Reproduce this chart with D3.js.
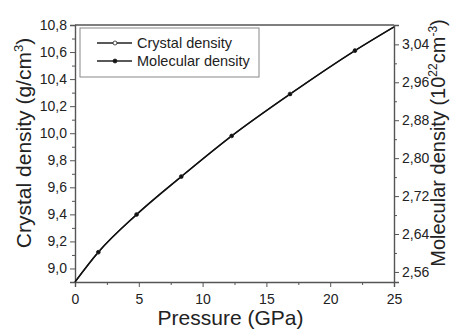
<!DOCTYPE html>
<html>
<head>
<meta charset="utf-8">
<script src="https://cdn.jsdelivr.net/npm/d3@7"></script>
<style>
  body { margin: 0; background: #fff; }
  svg { display: block; font-family: "Liberation Sans", Arial, sans-serif; }
</style>
</head>
<body>
<svg width="451" height="331"></svg>
<script>
// data
var pressure = [0, 1.83, 4.83, 8.33, 12.28, 16.85, 21.94, 25];
var crystalDensity = [8.90, 9.12, 9.40, 9.68, 9.98, 10.29, 10.61, 10.785];
var molecularDensity = [2.539, 2.602, 2.681, 2.761, 2.847, 2.935, 3.027, 3.077];
var xTicks = [0, 5, 10, 15, 20, 25];
var leftTicks = [9.0, 9.2, 9.4, 9.6, 9.8, 10.0, 10.2, 10.4, 10.6, 10.8];
var rightTicks = [2.56, 2.64, 2.72, 2.80, 2.88, 2.96, 3.04];
var seriesNames = ["Crystal density", "Molecular density"];

var svg = d3.select("svg"),
    margin = {top: 25, right: 57, bottom: 49, left: 75},
    width = +svg.attr("width") - margin.left - margin.right,
    height = +svg.attr("height") - margin.top - margin.bottom;

var loc = d3.formatLocale({decimal: ",", thousands: ".", grouping: [3], currency: ["", ""]});

var x = d3.scaleLinear().domain([0, 25]).range([0, width]);
var yL = d3.scaleLinear().domain([8.9, 10.8]).range([height, 0]);
var yR = d3.scaleLinear().domain([2.5388, 3.0808]).range([height, 0]);

var g = svg.append("g").attr("transform", "translate(" + margin.left + "," + margin.top + ")");
var axisColor = "#555";

// minor ticks
g.append("g").attr("transform", "translate(0," + height + ")")
  .call(d3.axisBottom(x).tickValues(d3.range(2.5, 25, 5)).tickSize(3).tickFormat(""))
  .call(s => s.select(".domain").remove());
g.append("g")
  .call(d3.axisLeft(yL).tickValues(d3.range(9.1, 10.8, 0.2)).tickSize(3).tickFormat(""))
  .call(s => s.select(".domain").remove());
g.append("g").attr("transform", "translate(" + width + ",0)")
  .call(d3.axisRight(yR).tickValues(d3.range(2.60, 3.08, 0.08)).tickSize(3).tickFormat(""))
  .call(s => s.select(".domain").remove());

// major axes
var xAxis = g.append("g").attr("transform", "translate(0," + height + ")")
  .call(d3.axisBottom(x).tickValues(xTicks).tickSize(5).tickPadding(7).tickFormat(d3.format("d")));
var lAxis = g.append("g")
  .call(d3.axisLeft(yL).tickValues(leftTicks).tickSize(5).tickPadding(3).tickFormat(loc.format(".1f")));
var rAxis = g.append("g").attr("transform", "translate(" + width + ",0)")
  .call(d3.axisRight(yR).tickValues(rightTicks).tickSize(5).tickPadding(3).tickFormat(loc.format(".2f")));

svg.selectAll(".tick line").attr("stroke", axisColor).attr("stroke-width", 1);
svg.selectAll(".domain").attr("stroke", axisColor).attr("stroke-width", 1.4);
svg.selectAll(".tick text").attr("fill", "#222").style("font-size", "14px");

// top frame
g.append("line").attr("x1", 0).attr("x2", width).attr("y1", 0).attr("y2", 0)
  .attr("stroke", axisColor).attr("stroke-width", 1.4);

// lines
var crystalLine = d3.line().x((d, i) => x(pressure[i])).y(d => yL(d)).curve(d3.curveMonotoneX);
var molLine = d3.line().x((d, i) => x(pressure[i])).y(d => yR(d)).curve(d3.curveMonotoneX);

g.append("path").datum(crystalDensity).attr("d", crystalLine)
  .attr("fill", "none").attr("stroke", "#222").attr("stroke-width", 1.3);
g.append("path").datum(molecularDensity).attr("d", molLine)
  .attr("fill", "none").attr("stroke", "#111").attr("stroke-width", 1.5);

// markers (interior points only)
var inner = d3.range(1, pressure.length - 1);
g.append("g").selectAll("circle").data(inner).enter().append("circle")
  .attr("cx", i => x(pressure[i])).attr("cy", i => yL(crystalDensity[i]))
  .attr("r", 1.9).attr("fill", "#fff").attr("stroke", "#222").attr("stroke-width", 0.8);
g.append("g").selectAll("circle").data(inner).enter().append("circle")
  .attr("cx", i => x(pressure[i])).attr("cy", i => yR(molecularDensity[i]))
  .attr("r", 1.9).attr("fill", "#111");

// legend
var legend = svg.append("g").attr("transform", "translate(80,28)");
legend.append("rect").attr("width", 179).attr("height", 49)
  .attr("fill", "#fff").attr("stroke", "#888").attr("stroke-width", 1);
seriesNames.forEach(function (name, i) {
  var row = legend.append("g").attr("transform", "translate(0," + (15 + i * 18) + ")");
  row.append("line").attr("x1", 17).attr("x2", 52).attr("stroke", "#222").attr("stroke-width", 1.3);
  row.append("circle").attr("cx", 35).attr("r", 2)
    .attr("fill", i === 0 ? "#fff" : "#111").attr("stroke", "#222").attr("stroke-width", 0.8);
  row.append("text").attr("x", 57).attr("y", 5).style("font-size", "14.5px").attr("fill", "#222").text(name);
});

// axis titles
svg.append("text").attr("x", margin.left + width / 2 - 4).attr("y", 325)
  .attr("text-anchor", "middle").style("font-size", "21px").attr("fill", "#222")
  .text("Pressure (GPa)");

var lt = svg.append("text").attr("transform", "translate(31,143) rotate(-90)")
  .attr("text-anchor", "middle").style("font-size", "21px").attr("fill", "#222");
lt.append("tspan").text("Crystal density (g/cm");
lt.append("tspan").attr("dy", -8).style("font-size", "13px").text("3");
lt.append("tspan").attr("dy", 8).text(")");

var rt = svg.append("text").attr("transform", "translate(445,143) rotate(-90)")
  .attr("text-anchor", "middle").style("font-size", "20px").attr("fill", "#222");
rt.append("tspan").text("Molecular density (10");
rt.append("tspan").attr("dy", -8).style("font-size", "12px").text("22");
rt.append("tspan").attr("dy", 8).text("cm");
rt.append("tspan").attr("dy", -8).style("font-size", "12px").text("-3");
rt.append("tspan").attr("dy", 8).text(")");
</script>
</body>
</html>
